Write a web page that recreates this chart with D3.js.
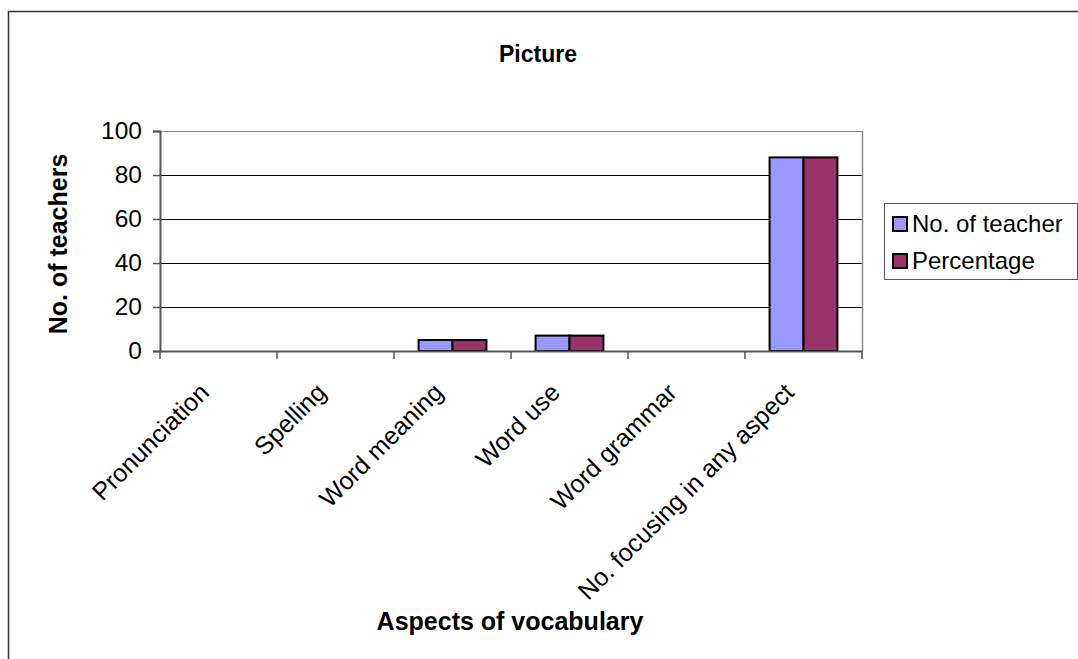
<!DOCTYPE html>
<html>
<head>
<meta charset="utf-8">
<script src="https://cdn.jsdelivr.net/npm/d3@7"></script>
<style>
  html, body { margin: 0; padding: 0; background: #fff; }
  svg { display: block; font-family: "Liberation Sans", Arial, sans-serif; }
</style>
</head>
<body>
<svg id="chart" width="1078" height="659"></svg>
<script>
// Vocabulary aspects focused on by teachers
const categories = ["Pronunciation", "Spelling", "Word meaning", "Word use", "Word grammar", "No. focusing in any aspect"];
const teachers = [0, 0, 5, 7, 0, 88];
const percentage = [0, 0, 5, 7, 0, 88];
const seriesNames = ["No. of teacher", "Percentage"];
const seriesColors = ["#9999ff", "#993366"];
const yTicks = [0, 20, 40, 60, 80, 100];

const svg = d3.select("#chart");
const W = 1078, H = 659;
const plot = { left: 160, top: 131, right: 862, bottom: 351 };
const FONT = "'Liberation Sans', Arial, sans-serif";

// outer chart frame
svg.append("rect")
  .attr("x", 8.5).attr("y", 11.5)
  .attr("width", W + 10).attr("height", H + 10)
  .attr("fill", "#fff").attr("stroke", "#333").attr("stroke-width", 1.5);

const x = d3.scaleBand().domain(categories).range([plot.left, plot.right]);
const y = d3.scaleLinear().domain([0, 100]).range([plot.bottom, plot.top]);

// gridlines
svg.append("g").selectAll("line").data(yTicks.filter(d => d > 0)).join("line")
  .attr("x1", plot.left).attr("x2", plot.right)
  .attr("y1", d => y(d) + 0.5).attr("y2", d => y(d) + 0.5)
  .attr("stroke", d => d === 100 ? "#888" : "#000").attr("stroke-width", 1);

// right border of plot area
svg.append("line")
  .attr("x1", plot.right + 0.5).attr("x2", plot.right + 0.5)
  .attr("y1", plot.top).attr("y2", plot.bottom)
  .attr("stroke", "#888").attr("stroke-width", 1.5);

// bars
const barGroupWidth = x.bandwidth() * 0.58;
const xs = d3.scaleBand().domain([0, 1]).range([0, barGroupWidth]);
const series = [teachers, percentage];
series.forEach((vals, si) => {
  svg.append("g").selectAll("rect")
    .data(categories.map((c, i) => ({ c, v: vals[i] })).filter(d => d.v > 0))
    .join("rect")
    .attr("x", d => x(d.c) + (x.bandwidth() - barGroupWidth) / 2 + xs(si))
    .attr("y", d => y(d.v))
    .attr("width", xs.bandwidth())
    .attr("height", d => plot.bottom - y(d.v))
    .attr("fill", seriesColors[si])
    .attr("stroke", "#000").attr("stroke-width", 2);
});

// y axis
const yAxis = d3.axisLeft(y).tickValues(yTicks).tickSize(7).tickPadding(11);
const gy = svg.append("g").attr("transform", `translate(${plot.left},0)`).call(yAxis);
gy.attr("font-size", null).attr("font-family", null);
gy.select(".domain").attr("stroke", "#555").attr("stroke-width", 2);
gy.selectAll(".tick line").attr("stroke", "#555").attr("stroke-width", 1.5);
gy.selectAll(".tick text").style("font-size", "24.5px").style("font-family", FONT).attr("fill", "#000");

// x axis baseline and category separators
const xAxis = d3.axisBottom(x).tickSize(0).tickFormat("");
const gx = svg.append("g").attr("transform", `translate(0,${plot.bottom})`).call(xAxis);
gx.select(".domain").attr("stroke", "#555").attr("stroke-width", 2);
gx.selectAll(".tick").remove();
const bounds = [plot.left].concat(categories.map(c => x(c) + x.bandwidth()));
svg.append("g").selectAll("line").data(bounds).join("line")
  .attr("x1", d => d).attr("x2", d => d)
  .attr("y1", plot.bottom).attr("y2", plot.bottom + 8)
  .attr("stroke", "#555").attr("stroke-width", 1.5);

// rotated category labels
svg.append("g").selectAll("text").data(categories).join("text")
  .attr("transform", d => `translate(${x(d) + x.bandwidth() / 2 - 8},${plot.bottom + 43}) rotate(-45)`)
  .attr("text-anchor", "end")
  .style("font-size", "25px")
  .attr("fill", "#000")
  .text(d => d);

// titles
svg.append("text").attr("x", 538).attr("y", 62).attr("text-anchor", "middle")
  .style("font-size", "23px").attr("font-weight", "bold").text("Picture");
svg.append("text").attr("x", 510).attr("y", 630).attr("text-anchor", "middle")
  .style("font-size", "25px").attr("font-weight", "bold").text("Aspects of vocabulary");
svg.append("text")
  .attr("transform", `translate(67,${(plot.top + plot.bottom) / 2 + 3}) rotate(-90)`)
  .attr("text-anchor", "middle")
  .style("font-size", "25px").attr("font-weight", "bold").text("No. of teachers");

// legend
const lg = svg.append("g").attr("transform", "translate(884,203)");
lg.append("rect").attr("x", 0.5).attr("y", 0.5).attr("width", 193).attr("height", 76)
  .attr("fill", "#fff").attr("stroke", "#555").attr("stroke-width", 1);
seriesNames.forEach((name, i) => {
  const row = lg.append("g").attr("transform", `translate(9,${20 + i * 37})`);
  row.append("rect").attr("x", 0).attr("y", -6).attr("width", 14).attr("height", 14)
    .attr("fill", seriesColors[i]).attr("stroke", "#000").attr("stroke-width", 2);
  row.append("text").attr("x", 19).attr("y", 9)
    .style("font-size", "24px").attr("fill", "#000").text(name);
});
</script>
</body>
</html>
